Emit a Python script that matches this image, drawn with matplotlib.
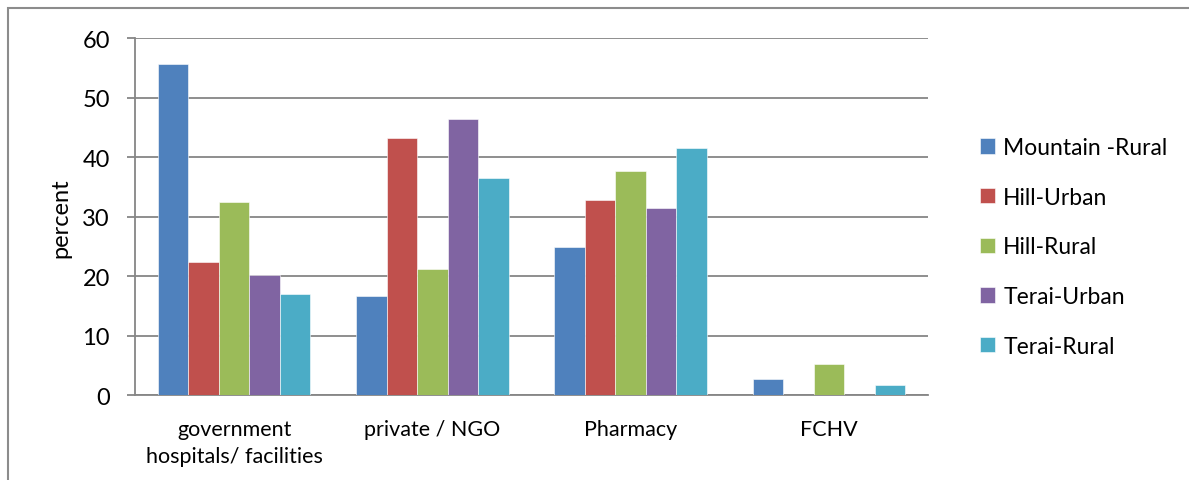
import numpy as np
import matplotlib
matplotlib.use("Agg")
import matplotlib.pyplot as plt
from matplotlib.patches import Rectangle

plt.rcParams['font.family'] = ['Lato', 'DejaVu Sans']

categories = ["government\nhospitals/ facilities", "private / NGO", "Pharmacy", "FCHV"]
series = ["Mountain -Rural", "Hill-Urban", "Hill-Rural", "Terai-Urban", "Terai-Rural"]
colors = ["#4F81BD", "#C0504D", "#9BBB59", "#8064A2", "#4BACC6"]

mountain_rural = [55.7, 16.7, 24.9, 2.8]
hill_urban = [22.4, 43.2, 32.9, 0]
hill_rural = [32.5, 21.3, 37.7, 5.2]
terai_urban = [20.3, 46.4, 31.5, 0]
terai_rural = [17.0, 36.5, 41.6, 1.7]
values = [mountain_rural, hill_urban, hill_rural, terai_urban, terai_rural]

fig = plt.figure(figsize=(11.89, 4.81), dpi=100)
ax = fig.add_axes([0.1135, 0.176, 0.667, 0.742])

x = np.arange(len(categories))
w = 0.154
for i, (name, vals, col) in enumerate(zip(series, values, colors)):
    ax.bar(x + (i - 2) * w, vals, width=w, color=col, label=name,
           edgecolor="white", linewidth=0.4, zorder=3)

ax.set_xlim(-0.5, len(categories) - 0.5)
ax.set_ylim(0, 60)
ax.set_yticks(range(0, 61, 10))
ax.yaxis.grid(True, color="#868686", linewidth=1.3, zorder=0)
ax.set_xticks(x)
ax.set_xticklabels(categories, fontsize=15.5, linespacing=1.45)
ax.tick_params(axis="x", length=0, pad=17)
ax.tick_params(axis="y", labelsize=17, length=6, width=1.3, color="#868686", pad=12)
for s in ["top", "right"]:
    ax.spines[s].set_visible(False)
for s in ["left", "bottom"]:
    ax.spines[s].set_color("#868686")
    ax.spines[s].set_linewidth(1.3)
ax.set_ylabel("percent", fontsize=17, labelpad=8)

ax.legend(loc="center left", bbox_to_anchor=(1.04, 0.416), frameon=False,
          fontsize=16.5, handlelength=0.65, handleheight=0.65, handletextpad=0.35,
          labelspacing=1.25)

# outer chart border
fig.patches.append(Rectangle((8 / 1189, -0.2), 1.2, 1.2 - 9 / 481,
                             transform=fig.transFigure, fill=False,
                             edgecolor="#8c8c8c", linewidth=1.5))

fig.savefig("out.png", dpi=100)
